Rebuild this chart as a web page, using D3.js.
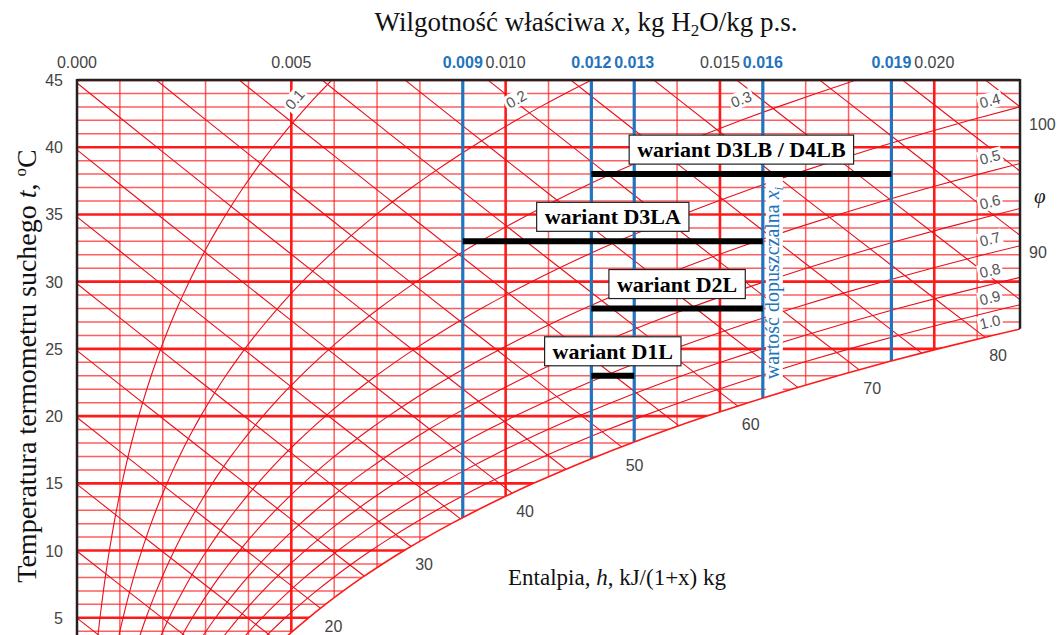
<!DOCTYPE html>
<html>
<head>
<meta charset="utf-8">
<script src="https://cdn.jsdelivr.net/npm/d3@7"></script>
<style>
body { margin: 0; background: #fff; }
</style>
</head>
<body>
<svg id="chart" width="1057" height="635"></svg>
<script>
// saturation pressure of water vapour (kPa) for t = 0..45 degC, steam table
var satTemps = [0,1,2,3,4,5,6,7,8,9,10,11,12,13,14,15,16,17,18,19,20,21,22,23,24,25,26,27,28,29,30,31,32,33,34,35,36,37,38,39,40,41,42,43,44,45];
var satPressure = [0.6113,0.6571,0.7060,0.7581,0.8136,0.8726,0.9354,1.0021,1.0730,1.1482,1.2282,1.3129,1.4028,1.4981,1.5989,1.7057,1.8188,1.9383,2.0647,2.1982,2.3392,2.4881,2.6452,2.8109,2.9856,3.1697,3.3637,3.5679,3.7828,4.0089,4.2467,4.4966,4.7592,5.0351,5.3247,5.6286,5.9475,6.2818,6.6324,6.9997,7.3844,7.7873,8.2090,8.6503,9.1118,9.5944];

var rhLevels = [0.1, 0.2, 0.3, 0.4, 0.5, 0.6, 0.7, 0.8, 0.9];
var rhTopLabels = ["0.1", "0.2", "0.3"];
var rhRightLabels = ["0.4", "0.5", "0.6", "0.7", "0.8", "0.9", "1.0"];
var enthalpyLevels = [5,10,15,20,25,30,35,40,45,50,55,60,65,70,75,80,85,90,95,100];
var enthalpySatLabels = [20, 30, 40, 50, 60, 70, 80];
var enthalpyEdgeLabels = [90, 100];

var xTicks = [0, 0.005, 0.010, 0.015, 0.020];
var limitValues = [0.009, 0.012, 0.013, 0.016, 0.019];
var tTicks = [5, 10, 15, 20, 25, 30, 35, 40, 45];

var variantNames = ["wariant D3LB / D4LB", "wariant D3LA", "wariant D2L", "wariant D1L"];
var variantTemp = [38, 33, 28, 23];
var variantFrom = [0.012, 0.009, 0.012, 0.012];
var variantTo = [0.019, 0.016, 0.016, 0.013];

var P = 101.325;
var red = "#ff1a1a";
var blue = "#2373bd";
var numFont = "Liberation Sans, Arial, sans-serif";
var serif = "Liberation Serif, Times New Roman, serif";

var svg = d3.select("#chart");
var x = d3.scaleLinear().domain([0, 0.022]).range([77, 1020]);
var y = d3.scaleLinear().domain([0, 45]).range([685, 80]);

function humidity(phi, ps) { return 0.622 * phi * ps / (P - phi * ps); }
function tempOnEnthalpy(h, xv) { return (h - 2501 * xv) / (1.005 + 1.86 * xv); }

// only for placing labels between table rows
function psAt(t) {
    var i = Math.max(0, Math.min(44, Math.floor(t)));
    var f = t - satTemps[i];
    return Math.exp(Math.log(satPressure[i]) * (1 - f) + Math.log(satPressure[i + 1]) * f);
}
function tAtPs(ps) {
    var i = Math.max(0, Math.min(44, d3.bisectRight(satPressure, ps) - 1));
    var f = (Math.log(ps) - Math.log(satPressure[i])) / (Math.log(satPressure[i + 1]) - Math.log(satPressure[i]));
    return satTemps[i] + f;
}

var curve = d3.line().curve(d3.curveMonotoneX);
var satPts = satTemps.map(function(t, i) { return [x(humidity(1, satPressure[i])), y(t)]; });

var defs = svg.append("defs");
defs.append("clipPath").attr("id", "plotRect")
    .append("rect").attr("x", x(0)).attr("y", y(45))
    .attr("width", x(0.022) - x(0)).attr("height", y(0) - y(45));
defs.append("clipPath").attr("id", "unsat")
    .append("path")
    .attr("d", curve(satPts) + "L3000,70L70,70L70,700Z");

var outer = svg.append("g").attr("clip-path", "url(#plotRect)");
var grid = outer.append("g").attr("clip-path", "url(#unsat)");

// temperature lines
grid.selectAll(".tline")
    .data(satTemps)
    .enter().append("line")
    .attr("x1", x(0)).attr("x2", x(0.022))
    .attr("y1", function(d) { return y(d); })
    .attr("y2", function(d) { return y(d); })
    .attr("stroke", red)
    .attr("stroke-opacity", function(d) { return d % 5 === 0 ? 1 : 0.7; })
    .attr("stroke-width", function(d) { return d % 5 === 0 ? 2.6 : 1.5; });

// humidity lines
var xLines = d3.range(1, 22);
grid.selectAll(".xline")
    .data(xLines)
    .enter().append("line")
    .attr("x1", function(d) { return x(d / 1000); })
    .attr("x2", function(d) { return x(d / 1000); })
    .attr("y1", y(45)).attr("y2", y(0))
    .attr("stroke", red)
    .attr("stroke-opacity", function(d) { return d % 5 === 0 ? 1 : 0.7; })
    .attr("stroke-width", function(d) { return d % 5 === 0 ? 2.6 : 1.5; });

// enthalpy lines
var xSteps = d3.range(0, 23).map(function(i) { return i / 1000; });
grid.selectAll(".hline")
    .data(enthalpyLevels)
    .enter().append("path")
    .attr("d", function(h) {
        return curve(xSteps.map(function(xv) { return [x(xv), y(tempOnEnthalpy(h, xv))]; }));
    })
    .attr("fill", "none")
    .attr("stroke", "#e8101a")
    .attr("stroke-width", 1.1);

// relative humidity curves
grid.selectAll(".rh")
    .data(rhLevels)
    .enter().append("path")
    .attr("d", function(phi) {
        return curve(satTemps.map(function(t, i) { return [x(humidity(phi, satPressure[i])), y(t)]; }));
    })
    .attr("fill", "none")
    .attr("stroke", "#e8101a")
    .attr("stroke-width", 1.1);

// white strip behind the vertical note
grid.append("rect").attr("x", x(0.016) + 3).attr("y", 176).attr("width", 17).attr("height", 218)
    .attr("fill", "#fff");

// limit lines
grid.selectAll(".limit")
    .data(limitValues)
    .enter().append("line")
    .attr("x1", function(d) { return x(d); })
    .attr("x2", function(d) { return x(d); })
    .attr("y1", y(45)).attr("y2", y(0))
    .attr("stroke", blue)
    .attr("stroke-width", 3.2);

// saturation curve and frame
var frame = svg.append("g").attr("clip-path", "url(#unsat)");
outer.append("path")
    .attr("d", curve(satPts))
    .attr("fill", "none")
    .attr("stroke", red)
    .attr("stroke-width", 1.6);
frame.append("line").attr("x1", x(0)).attr("x2", x(0)).attr("y1", y(45) - 1).attr("y2", y(0))
    .attr("stroke", "#222").attr("stroke-width", 2.5);
frame.append("line").attr("x1", x(0)).attr("x2", x(0.022)).attr("y1", y(45)).attr("y2", y(45))
    .attr("stroke", "#222").attr("stroke-width", 2.5);
frame.append("line").attr("x1", x(0.022)).attr("x2", x(0.022)).attr("y1", y(45) - 1).attr("y2", y(0))
    .attr("stroke", "#222").attr("stroke-width", 2.5);

// RH labels
function rhLabel(px, py, ang, txt) {
    var g = svg.append("g").attr("transform", "translate(" + px + "," + py + ") rotate(" + ang + ")");
    var t = g.append("text").attr("text-anchor", "middle").attr("dy", "0.35em")
        .attr("font-family", numFont).attr("font-size", 15)
        .attr("fill", "#555").text(txt);
    var w = t.node().getComputedTextLength();
    g.insert("rect", "text").attr("x", -w / 2 - 2).attr("y", -8).attr("width", w + 4).attr("height", 16)
        .attr("fill", "#fff");
}
function curveAngle(phi, t0) {
    var p0 = [x(humidity(phi, psAt(t0))), y(t0)];
    var p1 = [x(humidity(phi, psAt(t0 + 0.5))), y(t0 + 0.5)];
    return Math.atan2(p1[1] - p0[1], p1[0] - p0[0]) * 180 / Math.PI;
}
rhTopLabels.forEach(function(txt) {
    var phi = +txt;
    var t0 = 42;
    rhLabel(x(humidity(phi, psAt(t0))), y(t0) - 21, curveAngle(phi, t0), txt);
});
rhRightLabels.forEach(function(txt) {
    var phi = +txt;
    var xv = 0.0213;
    var t0 = tAtPs(xv * P / (phi * (0.622 + xv)));
    rhLabel(x(xv), y(t0) - 14, curveAngle(phi, t0), txt);
});

// enthalpy labels
function hSat(t) { var xs = humidity(1, psAt(t)); return 1.005 * t + xs * (2501 + 1.86 * t); }
enthalpySatLabels.forEach(function(h) {
    var lo = 0, hi = 45;
    for (var k = 0; k < 40; k++) { var mid = (lo + hi) / 2; if (hSat(mid) < h) lo = mid; else hi = mid; }
    var px = x(humidity(1, psAt(lo))), py = y(lo);
    svg.append("text").attr("x", px + 13).attr("y", py + 24)
        .attr("text-anchor", "middle").attr("font-family", numFont).attr("font-size", 16)
        .attr("fill", "#444").text(h);
});
enthalpyEdgeLabels.forEach(function(h) {
    var py = y(tempOnEnthalpy(h, 0.022));
    svg.append("text").attr("x", x(0.022) + 9).attr("y", py + 23)
        .attr("font-family", numFont).attr("font-size", 16)
        .attr("fill", "#444").text(h);
});
svg.append("text").attr("x", x(0.022) + 14).attr("y", 203)
    .attr("font-family", serif).attr("font-style", "italic")
    .attr("font-size", 21).attr("fill", "#222").text("φ");

// variant bars
variantNames.forEach(function(name, i) {
    var x0 = x(variantFrom[i]), x1 = x(variantTo[i]), yy = y(variantTemp[i]);
    svg.append("line").attr("x1", x0).attr("x2", x1).attr("y1", yy).attr("y2", yy)
        .attr("stroke", "#000").attr("stroke-width", 6);
    var cx = (x0 + x1) / 2;
    var g = svg.append("g");
    var t = g.append("text").attr("x", cx).attr("y", yy - 17)
        .attr("text-anchor", "middle")
        .attr("font-family", serif)
        .attr("font-weight", "bold").attr("font-size", 22).attr("fill", "#000").text(name);
    var w = t.node().getComputedTextLength();
    g.insert("rect", "text").attr("x", cx - w / 2 - 8).attr("y", yy - 39)
        .attr("width", w + 16).attr("height", 29)
        .attr("fill", "#fff").attr("stroke", "#222").attr("stroke-width", 1.2);
});

// blue vertical note
var note = svg.append("text")
    .attr("transform", "translate(" + (x(0.016) + 16) + ",283) rotate(-90)")
    .attr("text-anchor", "middle")
    .attr("font-family", serif)
    .attr("font-size", 20).attr("fill", blue);
note.append("tspan").text("wartość dopuszczalna ");
note.append("tspan").attr("font-style", "italic").text("x");
note.append("tspan").attr("font-style", "italic").attr("font-size", 13).attr("dy", 4).text("i");

// top axis
svg.selectAll(".xtick")
    .data(xTicks)
    .enter().append("text")
    .attr("x", function(d) { return x(d); })
    .attr("y", 68)
    .attr("text-anchor", "middle")
    .attr("font-family", numFont).attr("font-size", 16).attr("fill", "#444")
    .text(function(d) { return d3.format(".3f")(d); });
svg.selectAll(".ltick")
    .data(limitValues)
    .enter().append("text")
    .attr("x", function(d) { return x(d); })
    .attr("y", 68)
    .attr("text-anchor", "middle")
    .attr("font-family", numFont).attr("font-size", 16).attr("font-weight", "bold").attr("fill", blue)
    .text(function(d) { return d3.format(".3f")(d); });

// left axis
svg.selectAll(".ttick")
    .data(tTicks)
    .enter().append("text")
    .attr("x", 63)
    .attr("y", function(d) { return y(d) + 6; })
    .attr("text-anchor", "end")
    .attr("font-family", numFont).attr("font-size", 16).attr("fill", "#444")
    .text(function(d) { return d; });

// titles
var title = svg.append("text").attr("x", 586).attr("y", 31).attr("text-anchor", "middle")
    .attr("font-family", serif).attr("font-size", 27).attr("fill", "#111");
title.append("tspan").text("Wilgotność właściwa ");
title.append("tspan").attr("font-style", "italic").text("x");
title.append("tspan").text(", kg H");
title.append("tspan").attr("font-size", 17).attr("dy", 5).text("2");
title.append("tspan").attr("dy", -5).text("O/kg p.s.");

var yTitle = svg.append("text").attr("transform", "translate(36,366) rotate(-90)")
    .attr("text-anchor", "middle")
    .attr("font-family", serif).attr("font-size", 28).attr("fill", "#111");
yTitle.append("tspan").text("Temperatura termometru suchego ");
yTitle.append("tspan").attr("font-style", "italic").text("t");
yTitle.append("tspan").text(", ");
yTitle.append("tspan").attr("font-size", 17).attr("dy", -10).text("o");
yTitle.append("tspan").attr("dy", 10).text("C");

var hTitle = svg.append("text").attr("x", 508).attr("y", 585)
    .attr("font-family", serif).attr("font-size", 23).attr("fill", "#111");
hTitle.append("tspan").text("Entalpia, ");
hTitle.append("tspan").attr("font-style", "italic").text("h");
hTitle.append("tspan").text(", kJ/(1+x) kg");
</script>
</body>
</html>
